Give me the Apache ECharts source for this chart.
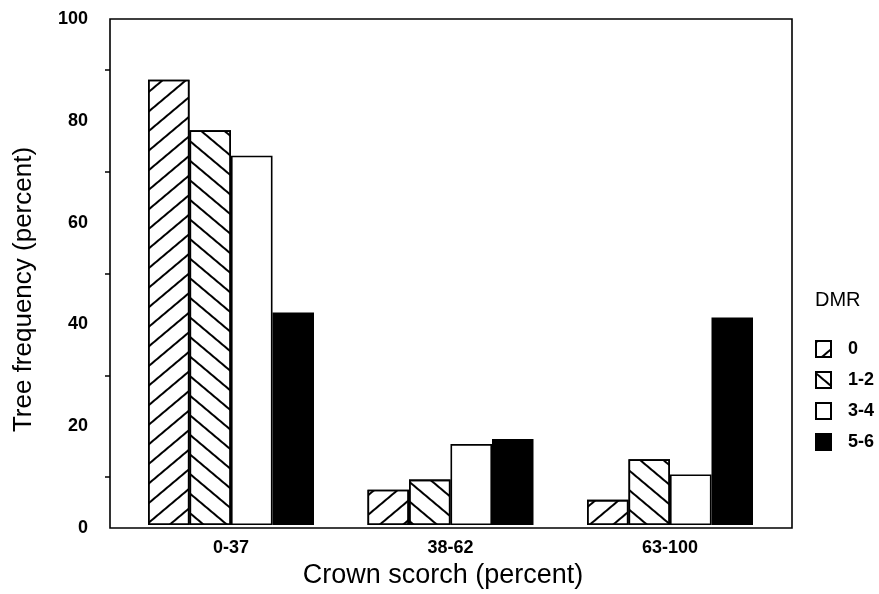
<!DOCTYPE html>
<html>
<head>
<meta charset="utf-8">
<script src="https://cdn.jsdelivr.net/npm/echarts@6/dist/echarts.min.js"></script>
<style>
  html, body { margin: 0; padding: 0; background: #fff; }
  #chart { width: 879px; height: 594px; }
</style>
</head>
<body>
<div id="chart"></div>
<script>
// Crown scorch classes and tree frequency (%) per dwarf mistletoe rating class
const categories = ['0-37', '38-62', '63-100'];
const dmrNames = ['0', '1-2', '3-4', '5-6'];
const dmr0 = [88, 7, 5];
const dmr12 = [78, 9, 13];
const dmr34 = [73, 16, 10];
const dmr56 = [42, 17, 41];
const yTicks = [0, 20, 40, 60, 80, 100];

const FONT = '"Liberation Sans", Arial, Helvetica, sans-serif';
const ANGLE = 40 * Math.PI / 180;

function hatch(rotation) {
  return {
    symbol: 'rect',
    symbolSize: 1,
    color: '#000',
    dashArrayX: [1, 0],
    dashArrayY: [2, 13],
    rotation: rotation
  };
}

const barStyle = [
  { color: '#fff', borderColor: '#000', borderWidth: 1.6, decal: hatch(-ANGLE) },
  { color: '#fff', borderColor: '#000', borderWidth: 1.6, decal: hatch(ANGLE) },
  { color: '#fff', borderColor: '#000', borderWidth: 1.6 },
  { color: '#000', borderColor: '#000', borderWidth: 1.6 }
];
const values = [dmr0, dmr12, dmr34, dmr56];

const chart = echarts.init(document.getElementById('chart'), null, { renderer: 'canvas' });

chart.setOption({
  backgroundColor: '#fff',
  animation: false,
  aria: { enabled: false },
  title: {
    text: 'DMR',
    left: 815,
    top: 290,
    padding: 0,
    textStyle: { fontFamily: FONT, fontSize: 20, fontWeight: 'normal', color: '#000' }
  },
  legend: {
    orient: 'vertical',
    left: 815,
    top: 340,
    padding: 0,
    icon: 'rect',
    itemWidth: 15,
    itemHeight: 16,
    itemGap: 13,
    selectedMode: false,
    data: dmrNames,
    textStyle: { fontFamily: FONT, fontSize: 18, fontWeight: 'bold', color: '#000', padding: [0, 0, 0, 12] }
  },
  grid: [
    { left: 110, top: 19, width: 682, height: 509, show: true, borderColor: '#000', borderWidth: 1.6, backgroundColor: 'transparent' },
    { left: 121.25, top: 19, width: 658.5, height: 509 }
  ],
  xAxis: [
    { gridIndex: 0, type: 'category', data: categories, show: false },
    {
      gridIndex: 1,
      type: 'category',
      data: categories,
      axisLine: { show: false },
      axisTick: { show: false },
      axisLabel: { fontFamily: FONT, fontSize: 18, fontWeight: 'bold', color: '#000', margin: 14 },
      name: 'Crown scorch (percent)',
      nameLocation: 'middle',
      nameGap: 30,
      nameTextStyle: { fontFamily: FONT, fontSize: 27, color: '#000', padding: [0, 15, 0, 0] }
    }
  ],
  yAxis: [
    {
      gridIndex: 0,
      type: 'value',
      min: yTicks[0],
      max: yTicks[yTicks.length - 1],
      interval: 20,
      axisLine: { show: false },
      axisTick: { show: false },
      minorTick: { show: true, splitNumber: 2, length: 5, lineStyle: { color: '#000', width: 1.5 } },
      splitLine: { show: false },
      axisLabel: { fontFamily: FONT, fontSize: 18, fontWeight: 'bold', color: '#000', margin: 22 },
      name: 'Tree frequency (percent)',
      nameLocation: 'middle',
      nameGap: 73,
      nameTextStyle: { fontFamily: FONT, fontSize: 26, color: '#000', padding: [0, 32, 0, 0] }
    },
    { gridIndex: 1, type: 'value', min: 0, max: 100, show: false, splitLine: { show: false } }
  ],
  series: dmrNames.map((name, i) => ({
    name: name,
    type: 'bar',
    xAxisIndex: 1,
    yAxisIndex: 1,
    barWidth: 41.5,
    barGap: '0%',
    data: values[i],
    itemStyle: barStyle[i]
  }))
});
</script>
</body>
</html>
